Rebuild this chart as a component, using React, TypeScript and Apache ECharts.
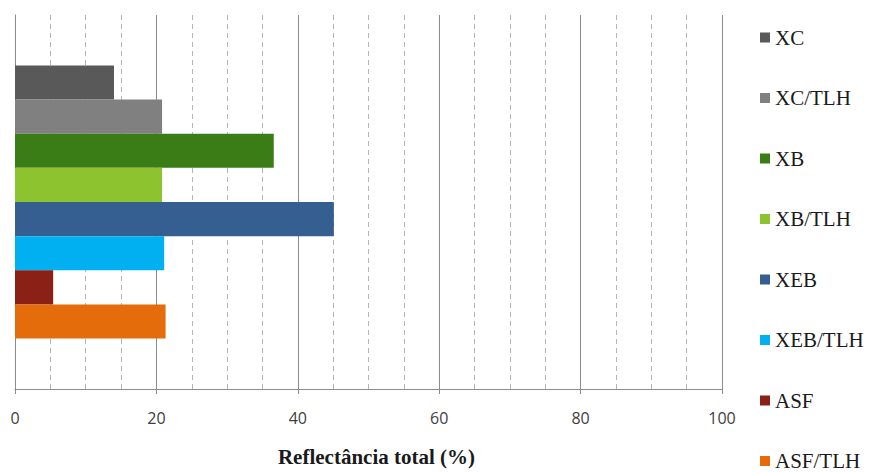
import React, { useEffect, useRef } from "react";
import * as echarts from "echarts";

const categories = ["Amostra"];
const seriesNames = ["XC", "XC/TLH", "XB", "XB/TLH", "XEB", "XEB/TLH", "ASF", "ASF/TLH"];
const seriesValues = [14.0, 20.8, 36.6, 20.8, 45.1, 21.1, 5.4, 21.3];
const seriesColors = ["#595959", "#808080", "#3a7d17", "#8dc32e", "#355f91", "#00b0f0", "#8b2017", "#e46c0a"];
const xTicks = [0, 20, 40, 60, 80, 100];
const xName = "Reflectância total (%)";

const SERIF = "'Times New Roman', 'Liberation Serif', serif";

export default function App() {
  const ref = useRef<HTMLDivElement>(null);
  useEffect(() => {
    document.body.style.margin = "0";
    const chart = echarts.init(ref.current!, null, { renderer: "svg" });
    chart.setOption({
      animation: false,
      backgroundColor: "#ffffff",
      grid: { left: 15, right: 156, top: 15, bottom: 78, containLabel: false },
      legend: seriesNames.map((n, i) => ({
        orient: "vertical",
        left: 760,
        top: 27 + i * 60.5,
        padding: 0,
        itemWidth: 10,
        itemHeight: 10,
        icon: "rect",
        data: [n],
        textStyle: {
          fontFamily: SERIF,
          fontSize: 21,
          lineHeight: 20,
          color: "#1a1a1a",
        },
      })),
      xAxis: {
        type: "value",
        min: xTicks[0],
        max: xTicks[xTicks.length - 1],
        interval: 20,
        name: xName,
        nameLocation: "middle",
        nameGap: 57,
        nameTextStyle: {
          fontFamily: SERIF,
          fontWeight: "bold",
          fontSize: 21,
          color: "#1a1a1a",
          padding: [0, 0, 0, 16],
        },
        axisLine: { show: true, lineStyle: { color: "#8c8c8c", width: 1 } },
        axisTick: { show: true, length: 5, lineStyle: { color: "#8c8c8c" } },
        axisLabel: { margin: 21, fontFamily: "Open Sans", fontSize: 16, color: "#404040" },
        splitLine: { show: true, lineStyle: { color: "#8c8c8c", width: 1 } },
        minorTick: { show: false, splitNumber: 4 },
        minorSplitLine: { show: true, lineStyle: { color: "#b4b4b4", width: 1, type: [5, 4] } },
      },
      yAxis: {
        type: "category",
        data: categories,
        inverse: true,
        axisLine: { show: true, lineStyle: { color: "#8c8c8c", width: 1 } },
        axisTick: { show: false },
        axisLabel: { show: false },
        splitLine: { show: false },
      },
      series: seriesNames.map((n, i) => ({
        name: n,
        type: "bar",
        data: [seriesValues[i]],
        barGap: "0%",
        barCategoryGap: "27%",
        itemStyle: { color: seriesColors[i] },
      })),
    });
    return () => chart.dispose();
  }, []);
  return <div ref={ref} style={{ width: 878, height: 472 }} />;
}
